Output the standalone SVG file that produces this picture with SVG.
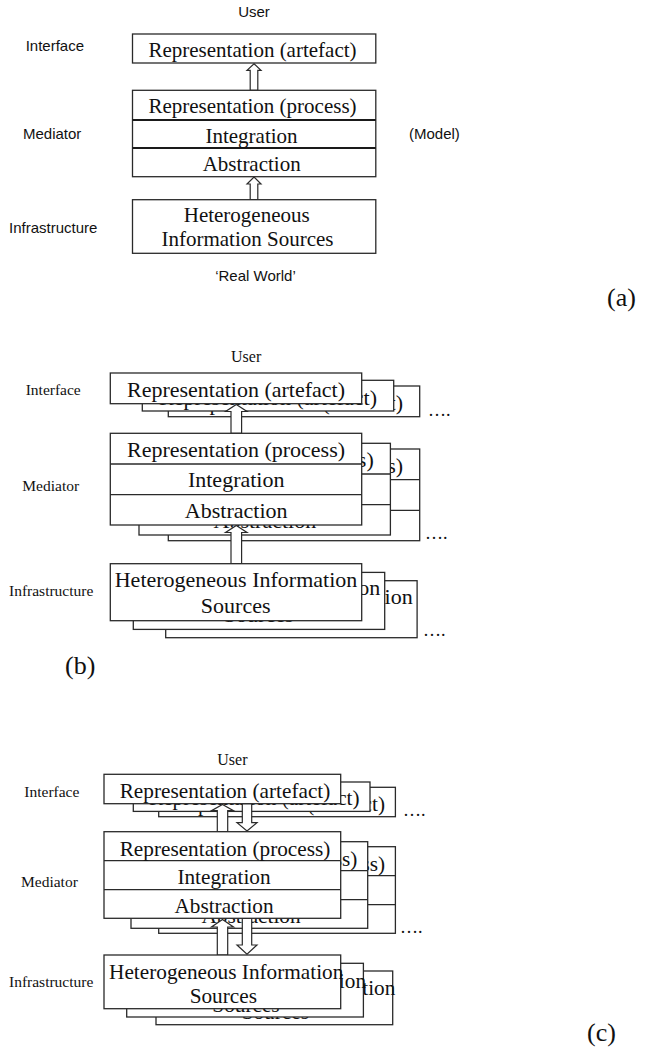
<svg xmlns="http://www.w3.org/2000/svg" width="672" height="1056" viewBox="0 0 672 1056">
<style>
.bg{fill:#fff}
.box{fill:#fff;stroke:#2a2a2a;stroke-width:1.3}
.div{stroke:#2a2a2a;stroke-width:1.3;fill:none}
.divA{stroke:#1a1a1a;stroke-width:2;fill:none}
.arr{fill:#fff;stroke:#2a2a2a;stroke-width:1.2;stroke-linejoin:miter}
.ss{font-family:"Liberation Sans",Arial,sans-serif;font-size:15px;fill:#111}
.sl{font-family:"Liberation Serif","Times New Roman",serif;font-size:15.5px;fill:#111}
.ta{font-family:"Liberation Serif","Times New Roman",serif;font-size:21px;fill:#111;text-anchor:middle}
.tb{font-family:"Liberation Serif","Times New Roman",serif;font-size:22px;fill:#111;text-anchor:middle}
.tc{font-family:"Liberation Serif","Times New Roman",serif;font-size:21.25px;fill:#111;text-anchor:middle}
.dots{font-family:"Liberation Serif","Times New Roman",serif;font-size:18px;fill:#111}
.cap{font-family:"Liberation Serif","Times New Roman",serif;font-size:26px;fill:#111}
</style>
<rect class="bg" x="0" y="0" width="672" height="1056"/>

<!-- ========== Panel (a) ========== -->
<g id="a-labels">
<text class="ss" x="254" y="17" text-anchor="middle">User</text>
<text class="ss" x="25.7" y="50.7">Interface</text>
<text class="ss" x="23" y="139">Mediator</text>
<text class="ss" x="9" y="233.3">Infrastructure</text>
<text class="ss" x="409" y="139">(Model)</text>
<text class="ss" x="255.5" y="281" text-anchor="middle">‘Real World’</text>
<text class="cap" x="607" y="306">(a)</text>
</g>
<g id="a-connectors">
<path class="arr" d="M254,63.8 L261,70.3 L257.8,70.3 L257.8,90.3 L250.2,90.3 L250.2,70.3 L247,70.3 Z"/>
<path class="arr" d="M254,177 L261,184 L257.8,184 L257.8,199.7 L250.2,199.7 L250.2,184 L247,184 Z"/>
</g>
<g id="a-interface">
<rect class="box" x="132.5" y="34" width="243.3" height="29"/>
<text class="ta" x="252.5" y="57.3">Representation (artefact)</text>
</g>
<g id="a-mediator">
<rect class="box" x="132.5" y="90.3" width="243.3" height="86.4"/>
<line class="divA" x1="132.5" y1="120" x2="375.8" y2="120"/>
<line class="divA" x1="132.5" y1="148" x2="375.8" y2="148"/>
<text class="ta" x="252.5" y="113">Representation (process)</text>
<text class="ta" x="251.5" y="142.5">Integration</text>
<text class="ta" x="251.7" y="170.7">Abstraction</text>
</g>
<g id="a-infrastructure">
<rect class="box" x="132.5" y="199.7" width="243.3" height="53.6"/>
<text class="ta" x="246.7" y="222.3">Heterogeneous</text>
<text class="ta" x="247.5" y="246">Information Sources</text>
</g>

<!-- ========== Panel (b) ========== -->
<g id="b-labels">
<text class="sl" x="231" y="361.7" style="font-size:16px">User</text>
<text class="sl" x="25.7" y="395">Interface</text>
<text class="sl" x="22.3" y="490.7">Mediator</text>
<text class="sl" x="9" y="595.7">Infrastructure</text>
<text class="dots" x="428" y="416">….</text>
<text class="dots" x="425" y="539">….</text>
<text class="dots" x="423" y="636">….</text>
<text class="cap" x="65" y="674">(b)</text>
</g>
<!-- back nodes (b) -->
<g id="b-interface-3" transform="translate(58,13)">
<rect class="box" x="110.3" y="373" width="251.4" height="30.7"/>
<text class="tb" x="236" y="397.3">Representation (artefact)</text>
</g>
<g id="b-interface-2" transform="translate(32,7.3)">
<rect class="box" x="110.3" y="373" width="251.4" height="30.7"/>
<text class="tb" x="236" y="397.3">Representation (artefact)</text>
</g>
<g id="b-mediator-3" transform="translate(58,15.7)">
<rect class="box" x="110.3" y="433.3" width="251.4" height="91.7"/>
<line class="div" x1="110.3" y1="464" x2="361.7" y2="464"/>
<line class="div" x1="110.3" y1="494.7" x2="361.7" y2="494.7"/>
<text class="tb" x="236" y="457.3">Representation (process)</text>
<text class="tb" x="236.2" y="486.7">Integration</text>
<text class="tb" x="236.2" y="517.7">Abstraction</text>
</g>
<g id="b-mediator-2" transform="translate(28.7,10)">
<rect class="box" x="110.3" y="433.3" width="251.4" height="91.7"/>
<line class="div" x1="110.3" y1="464" x2="361.7" y2="464"/>
<line class="div" x1="110.3" y1="494.7" x2="361.7" y2="494.7"/>
<text class="tb" x="236" y="457.3">Representation (process)</text>
<text class="tb" x="236.2" y="486.7">Integration</text>
<text class="tb" x="236.2" y="517.7">Abstraction</text>
</g>
<g id="b-infrastructure-3" transform="translate(55.4,17)">
<rect class="box" x="110.3" y="563.7" width="251.4" height="57"/>
<text class="tb" x="236" y="586.7">Heterogeneous Information</text>
<text class="tb" x="235.7" y="613.3">Sources</text>
</g>
<g id="b-infrastructure-2" transform="translate(23,8.7)">
<rect class="box" x="110.3" y="563.7" width="251.4" height="57"/>
<text class="tb" x="236" y="586.7">Heterogeneous Information</text>
<text class="tb" x="235.7" y="613.3">Sources</text>
</g>
<g id="b-connectors">
<path class="arr" d="M236.3,404.5 L247,411.5 L241.6,411.5 L241.6,433.3 L231,433.3 L231,411.5 L225.6,411.5 Z"/>
<path class="arr" d="M236.3,525.5 L247,532.5 L241.6,532.5 L241.6,563.7 L231,563.7 L231,532.5 L225.6,532.5 Z"/>
</g>
<g id="b-interface-1">
<rect class="box" x="110.3" y="373" width="251.4" height="30.7"/>
<text class="tb" x="236" y="397.3">Representation (artefact)</text>
</g>
<g id="b-mediator-1">
<rect class="box" x="110.3" y="433.3" width="251.4" height="91.7"/>
<line class="div" x1="110.3" y1="464" x2="361.7" y2="464"/>
<line class="div" x1="110.3" y1="494.7" x2="361.7" y2="494.7"/>
<text class="tb" x="236" y="457.3">Representation (process)</text>
<text class="tb" x="236.2" y="486.7">Integration</text>
<text class="tb" x="236.2" y="517.7">Abstraction</text>
</g>
<g id="b-infrastructure-1">
<rect class="box" x="110.3" y="563.7" width="251.4" height="57"/>
<text class="tb" x="236" y="586.7">Heterogeneous Information</text>
<text class="tb" x="235.7" y="613.3">Sources</text>
</g>

<!-- ========== Panel (c) ========== -->
<g id="c-labels">
<text class="sl" x="217.3" y="765" style="font-size:16px">User</text>
<text class="sl" x="24.3" y="796.7">Interface</text>
<text class="sl" x="21" y="886.7">Mediator</text>
<text class="sl" x="9" y="986.7">Infrastructure</text>
<text class="dots" x="403" y="816">….</text>
<text class="dots" x="400" y="933">….</text>
<text class="cap" x="587" y="1041">(c)</text>
</g>
<g id="c-interface-3" transform="translate(54.7,13)">
<rect class="box" x="104" y="774.3" width="236.7" height="29.4"/>
<text class="tc" x="225" y="797.7">Representation (artefact)</text>
</g>
<g id="c-interface-2" transform="translate(29.3,7.7)">
<rect class="box" x="104" y="774.3" width="236.7" height="29.4"/>
<text class="tc" x="225" y="797.7">Representation (artefact)</text>
</g>
<g id="c-mediator-3" transform="translate(54.7,15)">
<rect class="box" x="104" y="831.7" width="236.7" height="86.6"/>
<line class="div" x1="104" y1="860.7" x2="340.7" y2="860.7"/>
<line class="div" x1="104" y1="889.7" x2="340.7" y2="889.7"/>
<text class="tc" x="225" y="856">Representation (process)</text>
<text class="tc" x="224" y="884">Integration</text>
<text class="tc" x="224" y="912.7">Abstraction</text>
</g>
<g id="c-mediator-2" transform="translate(27,10)">
<rect class="box" x="104" y="831.7" width="236.7" height="86.6"/>
<line class="div" x1="104" y1="860.7" x2="340.7" y2="860.7"/>
<line class="div" x1="104" y1="889.7" x2="340.7" y2="889.7"/>
<text class="tc" x="225" y="856">Representation (process)</text>
<text class="tc" x="224" y="884">Integration</text>
<text class="tc" x="224" y="912.7">Abstraction</text>
</g>
<g id="c-infrastructure-3" transform="translate(52,16)">
<rect class="box" x="104" y="955" width="236.7" height="53.7"/>
<text class="tc" x="226.2" y="979.3">Heterogeneous Information</text>
<text class="tc" x="223.3" y="1003.3">Sources</text>
</g>
<g id="c-infrastructure-2" transform="translate(22.7,8.3)">
<rect class="box" x="104" y="955" width="236.7" height="53.7"/>
<text class="tc" x="226.2" y="979.3">Heterogeneous Information</text>
<text class="tc" x="223.3" y="1003.3">Sources</text>
</g>
<g id="c-connectors">
<path class="arr" d="M222.5,804.5 L233.5,810.7 L227.7,810.7 L227.7,831.7 L217.3,831.7 L217.3,810.7 L211.5,810.7 Z"/>
<path class="arr" d="M242.3,803.7 L251.7,803.7 L251.7,822.7 L257,822.7 L247,831 L237,822.7 L242.3,822.7 Z"/>
<path class="arr" d="M222.5,919.5 L233.5,927 L227.7,927 L227.7,955 L217.3,955 L217.3,927 L211.5,927 Z"/>
<path class="arr" d="M242.3,918.3 L251.7,918.3 L251.7,945 L257,945 L247,954.3 L237,945 L242.3,945 Z"/>
</g>
<g id="c-interface-1">
<rect class="box" x="104" y="774.3" width="236.7" height="29.4"/>
<text class="tc" x="225" y="797.7">Representation (artefact)</text>
</g>
<g id="c-mediator-1">
<rect class="box" x="104" y="831.7" width="236.7" height="86.6"/>
<line class="div" x1="104" y1="860.7" x2="340.7" y2="860.7"/>
<line class="div" x1="104" y1="889.7" x2="340.7" y2="889.7"/>
<text class="tc" x="225" y="856">Representation (process)</text>
<text class="tc" x="224" y="884">Integration</text>
<text class="tc" x="224" y="912.7">Abstraction</text>
</g>
<g id="c-infrastructure-1">
<rect class="box" x="104" y="955" width="236.7" height="53.7"/>
<text class="tc" x="226.2" y="979.3">Heterogeneous Information</text>
<text class="tc" x="223.3" y="1003.3">Sources</text>
</g>
</svg>
